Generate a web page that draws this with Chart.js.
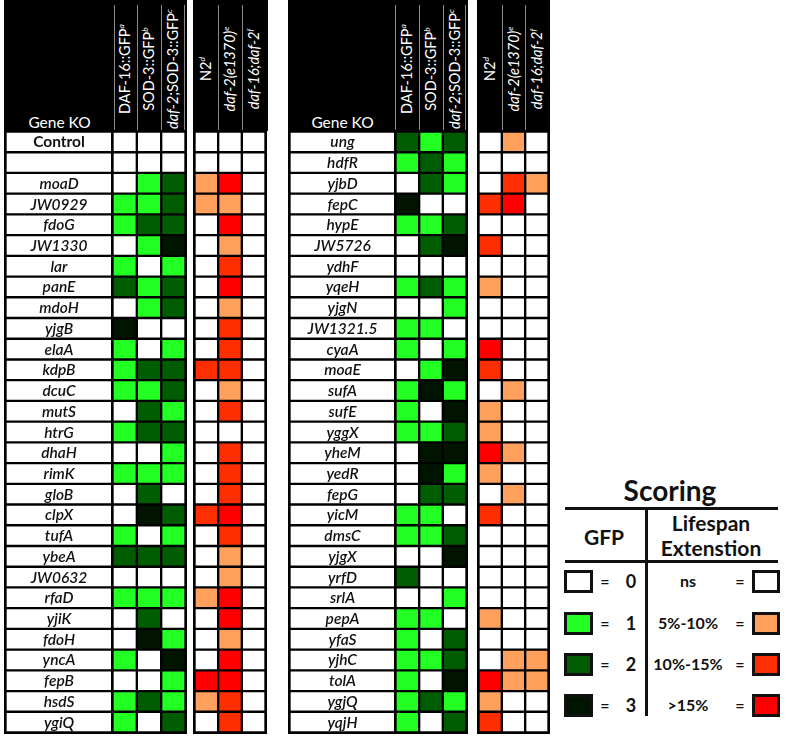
<!DOCTYPE html>
<html><head><meta charset="utf-8">
<script src="https://cdn.jsdelivr.net/npm/chart.js@4/dist/chart.umd.min.js"></script>
<style>
html,body{margin:0;padding:0;background:#fff;}
body{width:787px;height:736px;position:relative;overflow:hidden;font-family:Lato,"Open Sans",sans-serif;}
.blk{position:absolute;background:#000;top:0;height:131px;}
canvas.grid{position:absolute;background:#000;top:130px;}
.hl{position:absolute;top:5px;height:126px;width:1px;background:#8a8a8a;}
.ht{position:absolute;top:69px;color:#fff;font-size:14.5px;white-space:nowrap;line-height:1;transform:translate(-50%,-50%) rotate(-90deg);}
.ht sup{font-size:8.5px;font-style:italic;vertical-align:6px;line-height:0;}
.gk{position:absolute;top:113px;color:#fff;font-size:15.5px;text-align:center;}
.lg{position:absolute;font-weight:bold;color:#111;white-space:nowrap;text-align:center;line-height:1;}
.ln{position:absolute;background:#111;}
.box{position:absolute;box-sizing:border-box;border:3px solid #111;width:29px;height:23px;}
</style>
</head><body>
<script>
// ---------- DATA ----------
const gfpHeaders = ['DAF-16::GFP<sup>a</sup>','SOD-3::GFP<sup>b</sup>','<i>daf-2</i>;SOD-3::GFP<sup>c</sup>'];
const lifeHeaders = ['N2<sup>d</sup>','<i>daf-2(e1370)</i><sup>e</sup>','<i>daf-16;daf-2</i><sup>f</sup>'];

const leftGenes = ['Control','','moaD','JW0929','fdoG','JW1330','lar','panE','mdoH','yjgB','elaA','kdpB','dcuC','mutS','htrG','dhaH','rimK','gloB','clpX','tufA','ybeA','JW0632','rfaD','yjiK','fdoH','yncA','fepB','hsdS','ygiQ'];
const leftDAF16    = [0,0,0,1,1,0,1,2,0,3,1,1,1,0,1,0,1,0,0,1,2,0,1,0,0,1,0,1,1];
const leftSOD3     = [0,0,1,1,2,1,0,1,1,0,0,2,1,2,2,0,1,2,3,0,2,0,1,2,3,0,0,2,0];
const leftDaf2SOD3 = [0,0,2,2,2,3,1,2,2,0,1,2,2,1,2,1,1,0,2,1,2,0,1,0,1,3,1,1,2];
const leftN2       = [0,0,1,1,0,0,0,0,0,0,0,2,0,0,0,0,0,0,2,0,0,0,1,0,0,0,3,1,0];
const leftDaf2     = [0,0,3,1,3,1,2,3,1,2,2,2,1,2,0,2,2,2,3,2,1,1,3,3,1,3,3,2,2];
const leftDaf16Daf2= [0,0,0,0,0,0,0,0,0,0,0,0,0,0,0,0,0,0,0,0,0,0,0,0,0,0,0,0,0];

const rightGenes = ['ung','hdfR','yjbD','fepC','hypE','JW5726','ydhF','yqeH','yjgN','JW1321.5','cyaA','moaE','sufA','sufE','yggX','yheM','yedR','fepG','yicM','dmsC','yjgX','yrfD','srlA','pepA','yfaS','yjhC','tolA','ygjQ','yqjH'];
const rightDAF16    = [2,1,0,3,1,0,0,1,0,1,1,0,1,1,1,0,0,0,1,1,0,2,0,1,1,1,1,1,1];
const rightSOD3     = [1,2,2,0,1,2,0,2,0,1,0,1,3,0,1,3,3,2,1,1,0,0,0,1,0,1,0,2,0];
const rightDaf2SOD3 = [2,1,1,0,2,3,0,1,1,0,1,3,1,3,2,3,1,2,0,2,3,0,1,0,2,2,3,1,2];
const rightN2       = [0,0,0,2,0,2,0,1,0,0,3,2,0,1,1,3,1,0,2,0,0,0,0,1,0,0,3,1,2];
const rightDaf2     = [1,0,2,3,0,0,0,0,0,0,0,0,1,0,0,1,0,1,0,0,0,0,0,0,0,1,1,0,0];
const rightDaf16Daf2= [0,0,1,0,0,0,0,0,0,0,0,0,0,0,0,0,0,0,0,0,0,0,0,0,0,1,1,0,0];

const gfpColors  = ['#ffffff','#22ff22','#005c00','#001400'];
const lifeColors = ['#ffffff','#ffa05c','#ff2e00','#ff0000'];
const gfpScores  = ['0','1','2','3'];
const lifeBins   = ['ns','5%-10%','10%-15%','>15%'];

// ---------- LAYOUT ----------
const H = 604;
function el(tag, cls, style, html){const e=document.createElement(tag); if(cls) e.className=cls; Object.assign(e.style, style||{}); if(html!==undefined) e.innerHTML=html; document.body.appendChild(e); return e;}

const rowLabelPlugin = {
  id:'rowLabels',
  afterDatasetsDraw(chart){
    const meta = chart.getDatasetMeta(0), ctx = chart.ctx;
    ctx.save(); ctx.fillStyle='#111'; ctx.textAlign='center'; ctx.textBaseline='middle';
    meta.data.forEach((b,i)=>{
      const t = chart.data.labels[i]; if(!t) return;
      ctx.font = t==='Control' ? 'bold 15.5px Lato' : 'italic 600 15.5px Lato';
      ctx.fillText(t, (b.x+b.base)/2, b.y+0.5);
    });
    ctx.restore();
  }
};

function gridChart(left, width, labels, columns, palette, plugins){
  const c = el('canvas','grid',{left:left+'px',width:width+'px',height:H+'px'});
  c.width = width; c.height = H;
  return new Chart(c, {
    type:'bar',
    data:{ labels: labels,
      datasets: columns.map((vals,ci)=>({
        data: vals.map(()=>[ci-0.5, ci+0.5]),
        backgroundColor: vals.map(v=>palette[v]),
        borderColor:'#000', borderWidth:1.5, borderSkipped:false,
        barPercentage:1, categoryPercentage:1, grouped:false
      }))},
    options:{
      indexAxis:'y', responsive:false, animation:false, maintainAspectRatio:false,
      layout:{padding:1.5},
      scales:{ x:{type:'linear',min:-0.5,max:columns.length-0.5,display:false},
               y:{type:'category',display:false} },
      plugins:{legend:{display:false},tooltip:{enabled:false}}
    },
    plugins: plugins||[]
  });
}

function header(left, width, hdrs, centers, lines, geneKO){
  el('div','blk',{left:left+'px',width:width+'px'});
  lines.forEach(x=>el('div','hl',{left:x+'px'}));
  hdrs.forEach((h,i)=>el('div','ht',{left:centers[i]+'px'},h));
  if(geneKO) el('div','gk',{left:geneKO[0]+'px',width:geneKO[1]+'px'},'Gene KO');
}

// left table
header(4,183,gfpHeaders,[125,149,173],[114,137,161,184],[7,105]);
header(193,75,lifeHeaders,[206,230,254],[218,242]);
gridChart(4,110,leftGenes,[leftGenes.map(()=>0)],['#ffffff'],[rowLabelPlugin]);
gridChart(111,76,leftGenes,[leftDAF16,leftSOD3,leftDaf2SOD3],gfpColors);
gridChart(193,74,leftGenes,[leftN2,leftDaf2,leftDaf16Daf2],lifeColors);

// right table
header(288,180,gfpHeaders,[407,431,455],[395,419,443,465],[291,103]);
header(477,73,lifeHeaders,[490,514,537],[502,525]);
gridChart(288,109,rightGenes,[rightGenes.map(()=>0)],['#ffffff'],[rowLabelPlugin]);
gridChart(394,74,rightGenes,[rightDAF16,rightSOD3,rightDaf2SOD3],gfpColors);
gridChart(477,73,rightGenes,[rightN2,rightDaf2,rightDaf16Daf2],lifeColors);

// legend
el('div','lg',{left:570+'px',top:476+'px',width:200+'px',fontSize:'28px'},'Scoring');
el('div','ln',{left:565+'px',top:507+'px',width:213+'px',height:3+'px'});
el('div','ln',{left:645+'px',top:507+'px',width:3+'px',height:209+'px'});
el('div','ln',{left:565+'px',top:560+'px',width:213+'px',height:3+'px'});
el('div','lg',{left:564+'px',top:526+'px',width:80+'px',fontSize:'21px'},'GFP');
el('div','lg',{left:651+'px',top:512+'px',width:120+'px',fontSize:'21px'},'Lifespan');
el('div','lg',{left:651+'px',top:537+'px',width:120+'px',fontSize:'21px'},'Extenstion');
const rowC = [581,623,664,705];
gfpScores.forEach((s,i)=>{
  const cy=rowC[i];
  el('div','box',{left:564+'px',top:(cy-11.5)+'px',background:gfpColors[i]});
  el('div','lg',{left:595+'px',top:(cy-8.5)+'px',width:20+'px',fontSize:'16px'},'=');
  el('div','lg',{left:621+'px',top:(cy-9)+'px',width:20+'px',fontSize:'18px'},s);
  el('div','lg',{left:649+'px',top:(cy-8)+'px',width:78+'px',fontSize:'16px'},lifeBins[i]);
  el('div','lg',{left:730+'px',top:(cy-8.5)+'px',width:20+'px',fontSize:'16px'},'=');
  el('div','box',{left:752+'px',top:(cy-11.5)+'px',width:28+'px',background:lifeColors[i]});
});
</script>
</body></html>
